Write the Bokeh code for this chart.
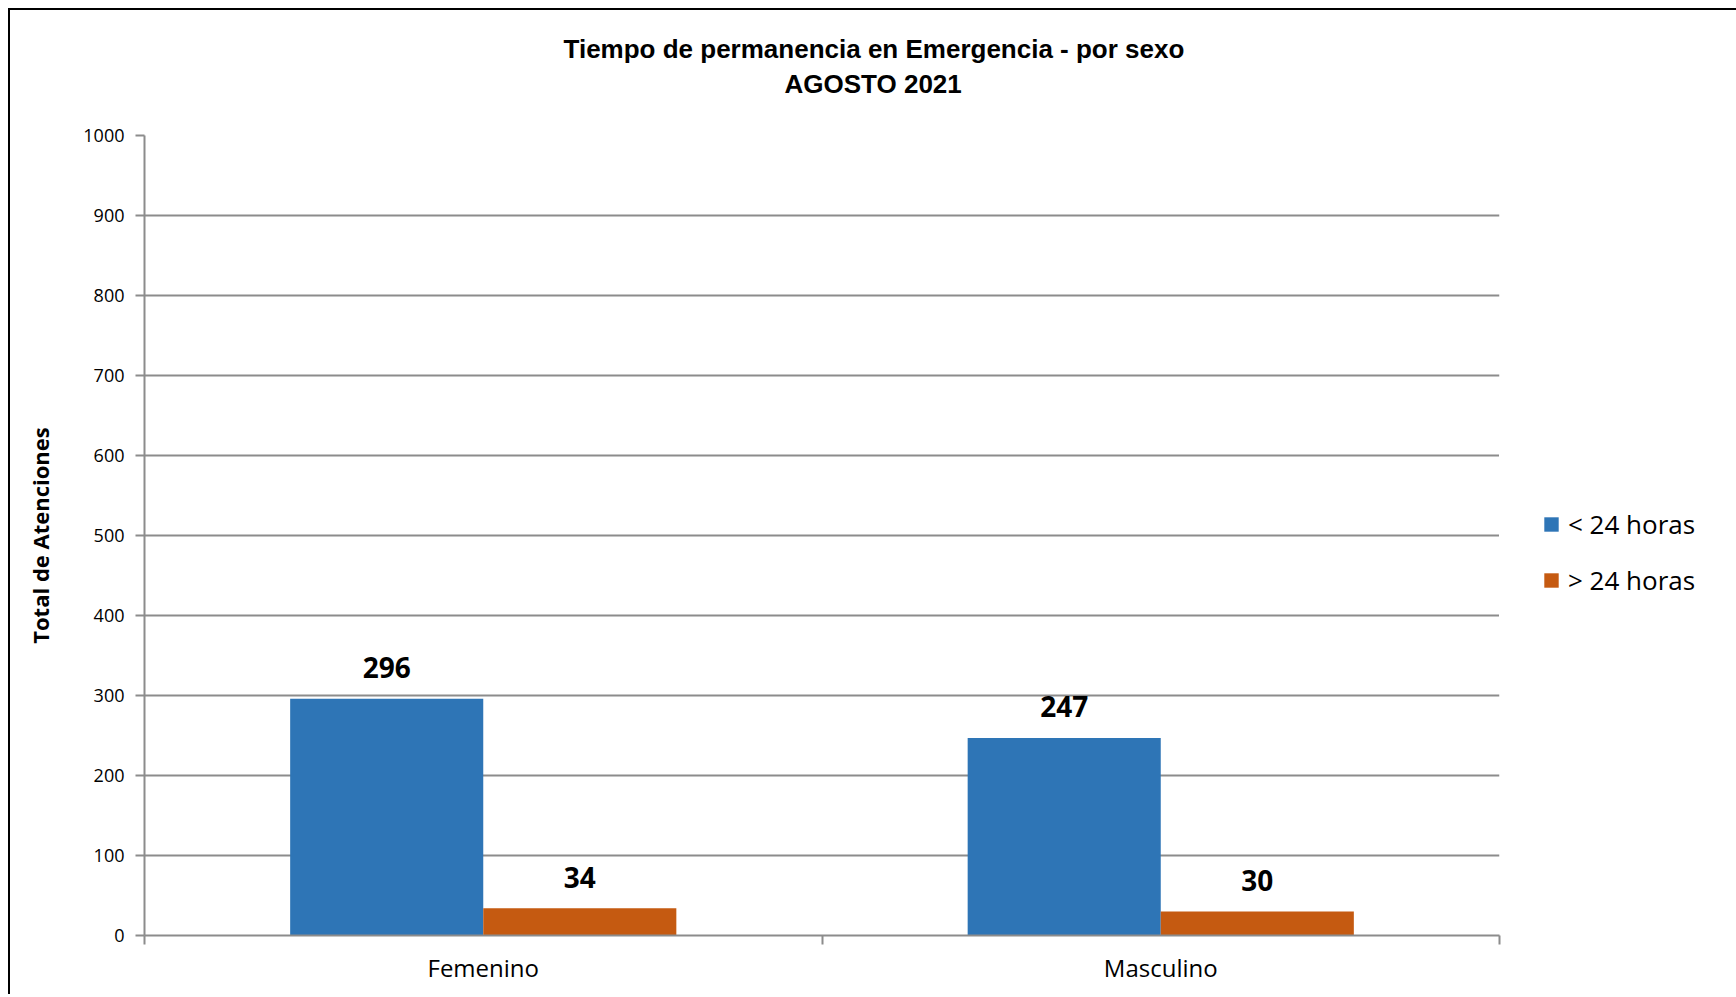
from bokeh.plotting import figure
from bokeh.models import (Range1d, LinearAxis, FixedTicker, ColumnDataSource, LabelSet,
                          Legend, LegendItem, Title)
from bokeh.core.properties import value
from bokeh.embed import file_html
from bokeh.resources import INLINE

# ---- data ----
categories = ["Femenino", "Masculino"]
menos_24 = [296, 247]
mas_24 = [34, 30]
series_names = ["< 24 horas", "> 24 horas"]
y_ticks = [0, 100, 200, 300, 400, 500, 600, 700, 800, 900, 1000]
title_line1 = "Tiempo de permanencia en Emergencia - por sexo"
title_line2 = "AGOSTO 2021"
y_label = "Total de Atenciones"

# ---- styles ----
BLUE = "#2E75B6"
ORANGE = "#C55A11"
GRID = "#8c8c8c"
FONT = "Open Sans"
TITLE_FONT = "Liberation Sans"
bar_w = 0.285

centers = [i + 0.5 for i in range(len(categories))]
src = ColumnDataSource(dict(
    x1=[c - bar_w / 2 for c in centers],
    x2=[c + bar_w / 2 for c in centers],
    v1=menos_24,
    v2=mas_24,
    t1=[str(v) for v in menos_24],
    t2=[str(v) for v in mas_24],
))

p = figure(frame_width=1355, frame_height=800,
           x_range=Range1d(0, len(categories)), y_range=Range1d(0, 1000),
           x_axis_type=None,
           min_border_left=134, min_border_right=0, min_border_top=125, min_border_bottom=59,
           output_backend="svg", toolbar_location=None)
p.styles = {"margin-top": "8px", "margin-left": "8px",
            "border-top": "2px solid black", "border-left": "2px solid black"}
p.outline_line_color = None
p.background_fill_color = "white"
p.border_fill_color = "white"

r1 = p.vbar(x="x1", top="v1", width=bar_w, bottom=0, source=src,
            fill_color=BLUE, line_color=None)
r2 = p.vbar(x="x2", top="v2", width=bar_w, bottom=0, source=src,
            fill_color=ORANGE, line_color=None)

for xc, yc, tc in (("x1", "v1", "t1"), ("x2", "v2", "t2")):
    p.add_layout(LabelSet(x=xc, y=yc, text=tc, source=src, y_offset=31,
                          text_align="center", text_baseline="middle",
                          text_font=value(FONT), text_font_style="bold",
                          text_font_size="28px", text_color="black"))

# y axis
yax = p.yaxis[0]
yax.ticker = FixedTicker(ticks=y_ticks, minor_ticks=[])
yax.axis_line_color = GRID
yax.axis_line_width = 2
yax.major_tick_line_color = GRID
yax.major_tick_line_width = 2
yax.major_tick_out = 9
yax.major_tick_in = 0
yax.minor_tick_line_color = None
yax.major_label_standoff = 11
yax.major_label_text_font = FONT
yax.major_label_text_font_size = "18px"
yax.major_label_text_color = "black"
yax.axis_label = y_label
yax.axis_label_text_font = FONT
yax.axis_label_text_font_style = "bold"
yax.axis_label_text_font_size = "22px"
yax.axis_label_text_color = "black"
yax.axis_label_standoff = 25

p.ygrid.ticker = FixedTicker(ticks=y_ticks)
p.ygrid.grid_line_color = GRID
p.ygrid.grid_line_width = 2

# x axis: boundary ticks
x_bounds = list(range(len(categories) + 1))
xax_ticks = LinearAxis(ticker=FixedTicker(ticks=x_bounds, minor_ticks=[]),
                       axis_line_color=GRID, axis_line_width=2,
                       major_tick_line_color=GRID, major_tick_line_width=2,
                       major_tick_out=9, major_tick_in=0,
                       minor_tick_line_color=None,
                       major_label_text_font_size="0px", major_label_text_alpha=0,
                       major_label_standoff=0)
p.add_layout(xax_ticks, "below")
xax_labels = LinearAxis(ticker=FixedTicker(ticks=centers, minor_ticks=[]),
                        major_label_overrides={c: n for c, n in zip(centers, categories)},
                        axis_line_color=None, major_tick_line_color=None,
                        minor_tick_line_color=None,
                        major_label_text_font=FONT, major_label_text_font_size="24px",
                        major_label_text_color="black", major_label_standoff=0)
p.add_layout(xax_labels, "below")

# titles (first added is closest to the plot); a blank spacer keeps the gap to the frame
p.add_layout(Title(text=" ", align="left", standoff=3,
                   text_font=TITLE_FONT, text_font_size="26px"), "above")
p.add_layout(Title(text=title_line2, align="left", offset=640, standoff=3,
                   text_font=TITLE_FONT, text_font_style="bold", text_font_size="26px",
                   text_color="black"), "above")
p.add_layout(Title(text=title_line1, align="left", offset=419, standoff=3,
                   text_font=TITLE_FONT, text_font_style="bold", text_font_size="26px",
                   text_color="black"), "above")

legend = Legend(items=[LegendItem(label=series_names[0], renderers=[r1]),
                       LegendItem(label=series_names[1], renderers=[r2])],
                location="center_left", orientation="vertical",
                title=" ", title_text_font_size="20px", title_standoff=11,
                glyph_width=18, glyph_height=18, label_standoff=8, spacing=20,
                padding=42, margin=0, border_line_color="white", border_line_width=1,
                background_fill_color="white",
                label_text_font=FONT, label_text_font_size="26px", label_text_color="black")
p.add_layout(legend, "right")

open("out.html", "w").write(file_html(p, INLINE))
